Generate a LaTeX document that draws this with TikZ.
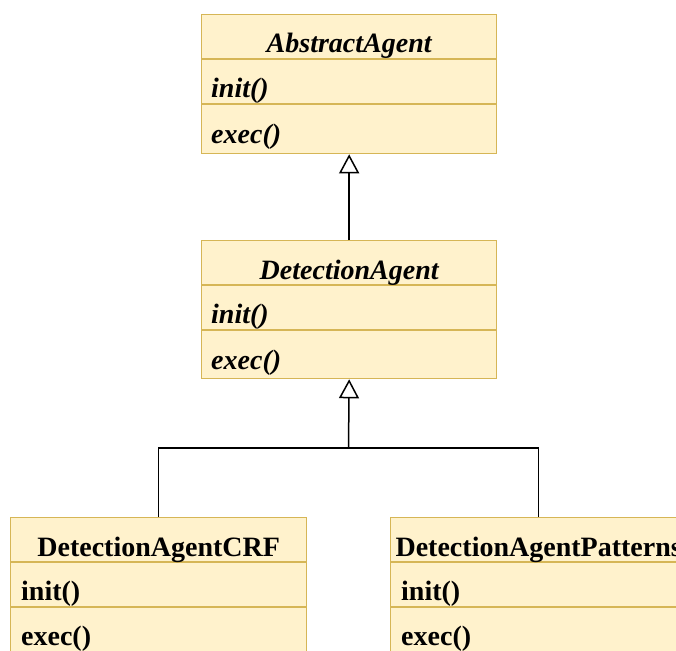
\documentclass[tikz,border=0pt]{standalone}
\usepackage{fontspec}
\setmainfont{Liberation Serif}
\usetikzlibrary{arrows.meta}
\definecolor{clsfill}{HTML}{FFF2CC}
\definecolor{clsdraw}{HTML}{D6B656}
\tikzset{
  cls/.style={draw=clsdraw, fill=clsfill, line width=1.3pt, minimum width=295pt, inner sep=0pt, anchor=north west},
  sep/.style={draw=clsdraw, line width=1.3pt},
  ttl/.style={anchor=base, inner sep=0pt, font=\fontsize{28}{30}\selectfont\bfseries},
  mem/.style={anchor=base west, inner sep=0pt, font=\fontsize{28}{30}\selectfont\bfseries},
  inh/.style={line width=1.5pt, -{Triangle[open, length=19pt, width=20pt]}},
  conn/.style={line width=1.5pt},
}
\begin{document}
\begin{tikzpicture}[x=1pt,y=-1pt]
\useasboundingbox (0,0) rectangle (676,650);
% AbstractAgent
\node[cls, minimum height=139pt] (aa) at (201,14) {};
\draw[sep] ([yshift=-45pt]aa.north west) -- ([yshift=-45pt]aa.north east);
\draw[sep] ([yshift=-90pt]aa.north west) -- ([yshift=-90pt]aa.north east);
\node[ttl] (aat) at ([yshift=-39pt]aa.north) {\itshape AbstractAgent};
\node[mem] (aai) at ([xshift=10pt,yshift=-83pt]aa.north west) {\itshape init()};
\node[mem] (aae) at ([xshift=10pt,yshift=-129pt]aa.north west) {\itshape exec()};
% DetectionAgent
\node[cls, minimum height=138pt] (da) at (201,240) {};
\draw[sep] ([yshift=-45pt]da.north west) -- ([yshift=-45pt]da.north east);
\draw[sep] ([yshift=-90pt]da.north west) -- ([yshift=-90pt]da.north east);
\node[ttl] (dat) at ([yshift=-39pt]da.north) {\itshape DetectionAgent};
\node[mem] (dai) at ([xshift=10pt,yshift=-83pt]da.north west) {\itshape init()};
\node[mem] (dae) at ([xshift=10pt,yshift=-129pt]da.north west) {\itshape exec()};
% DetectionAgentCRF
\node[cls, minimum width=296pt, minimum height=150pt] (crf) at (10,517) {};
\draw[sep] ([yshift=-45pt]crf.north west) -- ([yshift=-45pt]crf.north east);
\draw[sep] ([yshift=-90pt]crf.north west) -- ([yshift=-90pt]crf.north east);
\node[ttl] (crft) at ([yshift=-39pt]crf.north) {DetectionAgentCRF};
\node[mem] (crfi) at ([xshift=11pt,yshift=-83pt]crf.north west) {init()};
\node[mem] (crfe) at ([xshift=11pt,yshift=-128pt]crf.north west) {exec()};
% DetectionAgentPatterns
\node[cls, minimum width=296pt, minimum height=150pt] (pat) at (390,517) {};
\draw[sep] ([yshift=-45pt]pat.north west) -- ([yshift=-45pt]pat.north east);
\draw[sep] ([yshift=-90pt]pat.north west) -- ([yshift=-90pt]pat.north east);
\node[ttl] (patt) at ([yshift=-39pt]pat.north) {DetectionAgentPatterns};
\node[mem] (pati) at ([xshift=11pt,yshift=-83pt]pat.north west) {init()};
\node[mem] (pate) at ([xshift=11pt,yshift=-128pt]pat.north west) {exec()};
% connectors
\draw[inh] (da.north) -- (aa.south);
\coordinate (j) at (348.5,448);
\draw[conn] (crf.north) |- (j);
\draw[conn] (pat.north) |- (j);
\draw[inh] (j) -- (da.south);
\end{tikzpicture}
\end{document}
